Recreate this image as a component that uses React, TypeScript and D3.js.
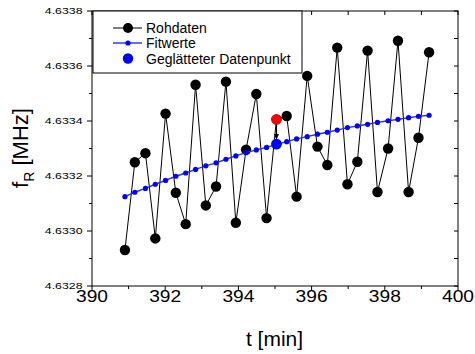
import React from "react";
import * as d3 from "d3";

// ---- data ----
const timeMin = [
  390.90, 391.17, 391.46, 391.73, 392.01, 392.29, 392.56, 392.83, 393.11, 393.39,
  393.66, 393.93, 394.21, 394.49, 394.77, 395.04, 395.32, 395.59, 395.88, 396.16,
  396.43, 396.70, 396.98, 397.25, 397.53, 397.80, 398.09, 398.36, 398.65, 398.92,
  399.21,
];
const rohdaten = [
  4.632931, 4.63325, 4.633283, 4.632973, 4.633427, 4.633139, 4.633025, 4.633532, 4.633093, 4.633162,
  4.633543, 4.63303, 4.633296, 4.633498, 4.633047, 4.633406, 4.633418, 4.633125, 4.633564, 4.633307,
  4.63324, 4.633667, 4.63317, 4.633252, 4.633656, 4.633142, 4.6333, 4.633692, 4.633142, 4.633339,
  4.63365,
];
const fitwerte = [
  4.633125, 4.633141, 4.633155, 4.63317, 4.633184, 4.633199, 4.633211, 4.633224, 4.633237, 4.633248,
  4.633261, 4.633273, 4.633285, 4.633295, 4.633304, 4.633315, 4.633325, 4.633335, 4.633343, 4.633352,
  4.633359, 4.633367, 4.633376, 4.633382, 4.633388, 4.633395, 4.633401, 4.633406, 4.633412, 4.633417,
  4.633421,
];
const highlightTime = [395.04];
const highlightRaw = [4.633406]; // red point
const geglaettet = [4.633316]; // smoothed data point (blue)

const xTickValues = [390, 392, 394, 396, 398, 400];
const xTickLabels = ["390", "392", "394", "396", "398", "400"];
const xMinorValues = [391, 393, 395, 397, 399];
const yTickValues = [4.6328, 4.633, 4.6332, 4.6334, 4.6336, 4.6338];
const yTickLabels = ["4.6328", "4.6330", "4.6332", "4.6334", "4.6336", "4.6338"];
const yMinorValues = [4.6329, 4.6331, 4.6333, 4.6335, 4.6337];

const legendLabels = ["Rohdaten", "Fitwerte", "Geglätteter Datenpunkt"];

const W = 475;
const H = 354;
const L = 92, R = 458, T = 11, B = 286;
const FONT = "'Liberation Sans', Arial, Helvetica, sans-serif";

export default function App() {
  const x = d3.scaleLinear().domain([390, 400]).range([L, R]);
  const y = d3.scaleLinear().domain([4.6328, 4.6338]).range([B, T]);

  const line = d3
    .line<number>()
    .x((_, i) => x(timeMin[i]))
    .y((d) => y(d));

  const rawPath = line(rohdaten) || "";
  const fitPath = line(fitwerte) || "";

  const blue = "#0000ff";
  const fitLine = "#2a2aff";

  const hx = x(highlightTime[0]);
  const arrowTop = y(highlightRaw[0]) + 5;
  const arrowBottom = y(geglaettet[0]) - 5;

  return (
    <svg
      width={W}
      height={H}
      style={{ position: "absolute", left: 0, top: 0, background: "#fff" }}
      fontFamily={FONT}
    >
      <rect x={0} y={0} width={W} height={H} fill="#fff" />

      {/* data: raw */}
      <path d={rawPath} fill="none" stroke="#000" strokeWidth={1} />
      {rohdaten.map((v, i) => (
        <circle key={"r" + i} cx={x(timeMin[i])} cy={y(v)} r={5.2} fill="#000" />
      ))}

      {/* fit */}
      <path d={fitPath} fill="none" stroke={fitLine} strokeWidth={1.4} />
      {fitwerte.map((v, i) => (
        <circle key={"f" + i} cx={x(timeMin[i])} cy={y(v)} r={2.6} fill={blue} />
      ))}

      {/* highlighted points */}
      {highlightRaw.map((v, i) => (
        <circle key={"h" + i} cx={x(highlightTime[i])} cy={y(v)} r={5.2} fill="#ff0000" />
      ))}
      {/* small arrow raw -> smoothed */}
      <line x1={hx} x2={hx} y1={arrowTop} y2={arrowBottom - 3} stroke="#000" strokeWidth={1.2} />
      <path
        d={`M${hx - 2.5},${arrowBottom - 5} L${hx + 2.5},${arrowBottom - 5} L${hx},${arrowBottom + 1} Z`}
        fill="#000"
      />
      {geglaettet.map((v, i) => (
        <circle key={"g" + i} cx={x(highlightTime[i])} cy={y(v)} r={5.4} fill={blue} />
      ))}

      {/* frame */}
      <rect x={L} y={T} width={R - L} height={B - T} fill="none" stroke="#000" strokeWidth={1} />

      {/* bottom axis ticks (outward) */}
      {xTickValues.map((t, i) => (
        <g key={"xt" + i}>
          <line x1={x(t)} x2={x(t)} y1={B} y2={B + 5} stroke="#000" />
          <line x1={x(t)} x2={x(t)} y1={T} y2={T + 4} stroke="#000" />
          <text
            transform={`translate(${x(t)},${302}) scale(1.2,1)`}
            textAnchor="middle"
            fontSize={16}
            fill="#000"
          >
            {xTickLabels[i]}
          </text>
        </g>
      ))}
      {xMinorValues.map((t, i) => (
        <g key={"xm" + i}>
          <line x1={x(t)} x2={x(t)} y1={B} y2={B + 3} stroke="#000" />
          <line x1={x(t)} x2={x(t)} y1={T} y2={T + 4} stroke="#000" />
        </g>
      ))}

      {/* left axis ticks (outward) */}
      {yTickValues.map((v, i) => (
        <g key={"yt" + i}>
          <line x1={L - 5} x2={L} y1={y(v)} y2={y(v)} stroke="#000" />
          <line x1={R - 4} x2={R} y1={y(v)} y2={y(v)} stroke="#000" />
          <text
            transform={`translate(${82.5},${y(v) + 3.4}) scale(1.3,1)`}
            textAnchor="end"
            fontSize={9.5}
            fill="#000"
          >
            {yTickLabels[i]}
          </text>
        </g>
      ))}
      {yMinorValues.map((v, i) => (
        <g key={"ym" + i}>
          <line x1={L - 3} x2={L} y1={y(v)} y2={y(v)} stroke="#000" />
          <line x1={R - 4} x2={R} y1={y(v)} y2={y(v)} stroke="#000" />
        </g>
      ))}

      {/* axis titles */}
      <text x={274.5} y={345.5} textAnchor="middle" fontSize={21} fill="#000">
        t [min]
      </text>
      <text transform="translate(28,148) rotate(-90)" textAnchor="middle" fontSize={22} fill="#000">
        f
        <tspan dy={6} fontSize={14}>R</tspan>
        <tspan dy={-6}> [MHz]</tspan>
      </text>

      {/* legend */}
      <rect x={93} y={11} width={209} height={62} fill="#fff" stroke="#000" strokeWidth={1} />
      {/* row 1 */}
      <line x1={113} x2={142} y1={28} y2={28} stroke="#000" strokeWidth={1} />
      <circle cx={128} cy={28} r={5} fill="#000" />
      <text x={146} y={33} fontSize={14} fill="#000">{legendLabels[0]}</text>
      {/* row 2 */}
      <line x1={113} x2={142} y1={43} y2={43} stroke="#6a6aff" strokeWidth={2} />
      <circle cx={128} cy={43} r={2.6} fill={blue} />
      <text x={146} y={48} fontSize={14} fill="#000">{legendLabels[1]}</text>
      {/* row 3 */}
      <circle cx={128} cy={58.5} r={5.2} fill={blue} />
      <text x={146} y={63.5} fontSize={14} fill="#000">{legendLabels[2]}</text>
    </svg>
  );
}
